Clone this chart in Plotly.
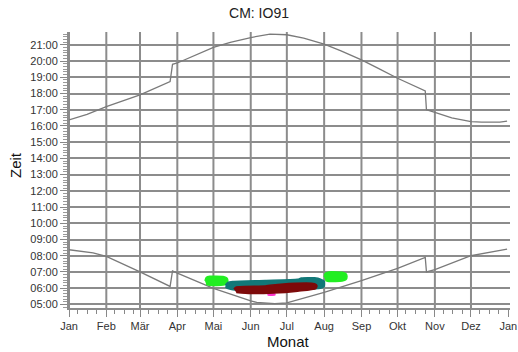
import plotly.graph_objects as go

# ---------------- data ----------------
MONTH_STARTS = ["2021-01-01", "2021-02-01", "2021-03-01", "2021-04-01", "2021-05-01", "2021-06-01",
                "2021-07-01", "2021-08-01", "2021-09-01", "2021-10-01", "2021-11-01", "2021-12-01",
                "2022-01-01"]
MONTH_LABELS = ["Jan", "Feb", "Mär", "Apr", "Mai", "Jun", "Jul", "Aug", "Sep", "Okt", "Nov", "Dez", "Jan"]

HOUR_TICKS = [5, 6, 7, 8, 9, 10, 11, 12, 13, 14, 15, 16, 17, 18, 19, 20, 21]
HOUR_LABELS = ["05:00", "06:00", "07:00", "08:00", "09:00", "10:00", "11:00", "12:00", "13:00",
               "14:00", "15:00", "16:00", "17:00", "18:00", "19:00", "20:00", "21:00"]

# sunset (upper curve), hours
sunset_dates = ["2021-01-01", "2021-01-16", "2021-02-01", "2021-03-01", "2021-03-26", "2021-03-28",
                "2021-04-01", "2021-05-01", "2021-05-15", "2021-06-01", "2021-06-17", "2021-07-01",
                "2021-07-15", "2021-08-01", "2021-08-15", "2021-09-01", "2021-09-15", "2021-10-01",
                "2021-10-24", "2021-10-25", "2021-11-01", "2021-11-15", "2021-12-01", "2021-12-10",
                "2021-12-25", "2021-12-31"]
sunset_hours = [16.37, 16.71, 17.19, 17.91, 18.74, 19.80,
                19.88, 20.84, 21.15, 21.45, 21.66, 21.62,
                21.41, 21.04, 20.63, 20.07, 19.55, 18.94,
                18.16, 17.00, 16.84, 16.50, 16.27, 16.24,
                16.24, 16.30]

# sunrise (lower curve), hours
sunrise_dates = ["2021-01-01", "2021-01-21", "2021-02-01", "2021-03-01", "2021-03-26", "2021-03-28",
                 "2021-04-01", "2021-05-01", "2021-06-01", "2021-06-06", "2021-06-21", "2021-07-01",
                 "2021-08-01", "2021-09-01", "2021-10-01", "2021-10-24", "2021-10-25", "2021-11-01",
                 "2021-12-01", "2021-12-22", "2021-12-31"]
sunrise_hours = [8.37, 8.18, 7.96, 7.01, 6.11, 7.07,
                 6.93, 5.99, 5.22, 5.12, 5.05, 5.10,
                 5.74, 6.46, 7.22, 7.90, 7.01, 7.14,
                 8.00, 8.31, 8.41]

# contact areas (outline of each coloured patch)
green1_dates = ["2021-04-24", "2021-04-25", "2021-04-28", "2021-05-09", "2021-05-12", "2021-05-13",
                "2021-05-12", "2021-05-09", "2021-04-28", "2021-04-25"]
green1_hours = [6.45, 6.66, 6.73, 6.72, 6.64, 6.45, 6.26, 6.19, 6.18, 6.24]

green2_dates = ["2021-08-01", "2021-08-02", "2021-08-05", "2021-08-16", "2021-08-19", "2021-08-20",
                "2021-08-19", "2021-08-16", "2021-08-05", "2021-08-02"]
green2_hours = [6.70, 6.92, 7.00, 6.98, 6.90, 6.72, 6.52, 6.44, 6.42, 6.48]

teal_dates = ["2021-05-11", "2021-05-13", "2021-05-17", "2021-06-13", "2021-07-10", "2021-07-13",
              "2021-07-24", "2021-07-29", "2021-08-01", "2021-08-01", "2021-07-29", "2021-07-10",
              "2021-06-10", "2021-05-20", "2021-05-13", "2021-05-11"]
teal_hours = [6.20, 6.36, 6.42, 6.48, 6.55, 6.63, 6.64, 6.56, 6.42, 6.12, 6.00, 5.92,
              5.86, 5.88, 5.98, 6.06]

magenta_dates = ["2021-06-15", "2021-06-21", "2021-06-21", "2021-06-15"]
magenta_hours = [5.66, 5.66, 5.58, 5.58]

maroon_dates = ["2021-05-18", "2021-05-20", "2021-06-13", "2021-06-26", "2021-07-24", "2021-07-26",
                "2021-07-25", "2021-07-10", "2021-06-20", "2021-06-01", "2021-05-20"]
maroon_hours = [5.95, 6.08, 6.14, 6.25, 6.28, 6.15, 5.97, 5.82, 5.70, 5.67, 5.74]

# ---------------- figure ----------------
GRID = "#8c8c8c"
FONT = "Liberation Sans, Arial, sans-serif"

fig = go.Figure()

for d, h in [(sunset_dates, sunset_hours), (sunrise_dates, sunrise_hours)]:
    fig.add_trace(go.Scatter(x=d, y=h, mode="lines", line=dict(color="#7a7a7a", width=1.3),
                             hoverinfo="skip", showlegend=False))

patches = [
    (green1_dates, green1_hours, "#22ee22"),
    (green2_dates, green2_hours, "#22ee22"),
    (teal_dates, teal_hours, "#127878"),
    (magenta_dates, magenta_hours, "#ff33cc"),
    (maroon_dates, maroon_hours, "#7d0a0a"),
]
for d, h, c in patches:
    fig.add_trace(go.Scatter(x=d, y=h, mode="lines", fill="toself", fillcolor=c,
                             line=dict(color=c, width=1.5, shape="spline", smoothing=0.6),
                             hoverinfo="skip", showlegend=False))

# vertical month grid lines (no line at the right-hand Jan)
for m in MONTH_STARTS[:-1]:
    fig.add_shape(type="line", xref="x", yref="paper", x0=m, x1=m, y0=0, y1=1,
                  line=dict(color=GRID, width=2), layer="below")

minor_x = []
for m in MONTH_STARTS[:-1]:
    y_, mo, _ = m.split("-")
    for dd in ("08", "16", "24"):
        minor_x.append(f"{y_}-{mo}-{dd}")

W, H = 518, 352
fig.update_layout(
    width=W, height=H,
    margin=dict(l=69, r=8, t=32, b=44, autoexpand=False),
    paper_bgcolor="white", plot_bgcolor="white",
    font=dict(family=FONT, size=11, color="#333333"),
    title=dict(text="CM: IO91", x=0.5, xanchor="center", y=1 - 13 / H, yanchor="middle",
               yref="container", font=dict(family=FONT, size=14, color="#222222")),
    xaxis=dict(
        type="date", range=["2021-01-01", "2022-01-02 10:00"], automargin=False,
        tickmode="array", tickvals=MONTH_STARTS, ticktext=MONTH_LABELS,
        showgrid=False, zeroline=False,
        showline=True, linecolor=GRID, linewidth=2,
        ticks="outside", ticklen=7, tickwidth=1, tickcolor="#888888",
        minor=dict(tickmode="array", tickvals=minor_x, ticks="outside", ticklen=4,
                   tickcolor="#888888", tickwidth=1, showgrid=False),
        tickfont=dict(size=11, color="#333333"),
    ),
    yaxis=dict(
        range=[4.78, 21.79], automargin=False,
        tickmode="array", tickvals=HOUR_TICKS, ticktext=HOUR_LABELS,
        showgrid=True, gridcolor=GRID, gridwidth=2, zeroline=False,
        showline=True, linecolor=GRID, linewidth=2,
        ticks="outside", ticklen=7, tickwidth=1, tickcolor="#888888",
        minor=dict(dtick=1 / 6, tick0=0, ticks="outside", ticklen=4,
                   tickcolor="#999999", tickwidth=1, showgrid=False),
        tickfont=dict(size=11, color="#333333"),
    ),
    annotations=[
        dict(text="Monat", xref="paper", yref="paper", x=(288 - 69) / (W - 77), y=-(341 - 308) / (H - 76),
             xanchor="center", yanchor="middle", showarrow=False,
             font=dict(size=15, color="#111111")),
        dict(text="Zeit", xref="paper", yref="paper", x=-(69 - 15) / (W - 77), y=(308 - 165) / (H - 76),
             xanchor="center", yanchor="middle", showarrow=False, textangle=-90,
             font=dict(size=15, color="#111111")),
    ],
)

fig.write_html("out.html", config={"displayModeBar": False},
               post_script="document.body.style.margin='0';")
